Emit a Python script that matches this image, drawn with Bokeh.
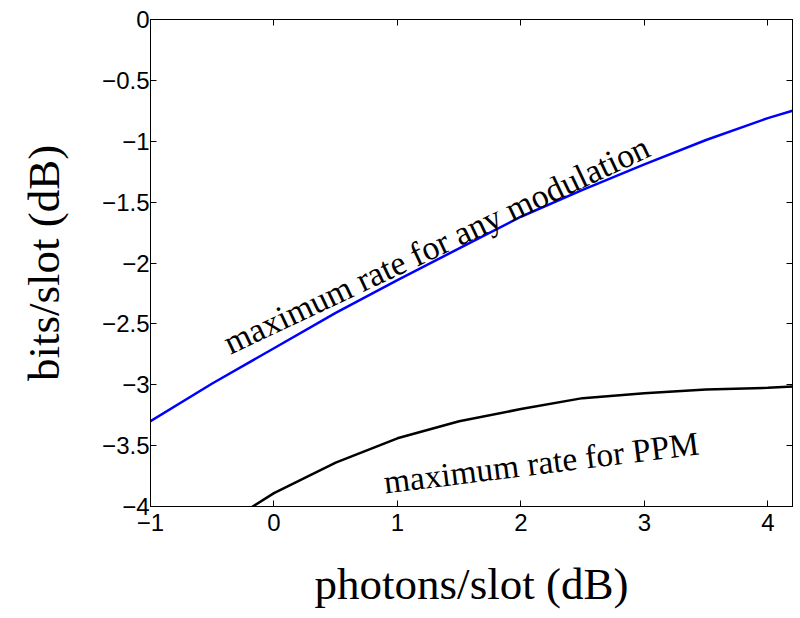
from bokeh.plotting import figure
from bokeh.models import Range1d, FixedTicker, LinearAxis, Label
from bokeh.embed import file_html
from bokeh.resources import INLINE

# ---- data ----
x_any = [-1.0, -0.5, 0.0, 0.5, 1.0, 1.5, 2.0, 2.5, 3.0, 3.5, 4.0, 4.2]
y_any = [-3.30, -2.99, -2.70, -2.41, -2.14, -1.88, -1.62, -1.40, -1.19, -0.99, -0.81, -0.75]

x_ppm = [-0.5, 0.0, 0.5, 1.0, 1.5, 2.0, 2.5, 3.0, 3.5, 4.0, 4.2]
y_ppm = [-4.21, -3.89, -3.64, -3.44, -3.30, -3.20, -3.11, -3.07, -3.04, -3.025, -3.015]

x_ticks = [-1, 0, 1, 2, 3, 4]
x_tick_labels = ["\u22121", "0", "1", "2", "3", "4"]
y_ticks = [0, -0.5, -1, -1.5, -2, -2.5, -3, -3.5, -4]
y_tick_labels = ["0", "\u22120.5", "\u22121", "\u22121.5", "\u22122", "\u22122.5", "\u22123", "\u22123.5", "\u22124"]

x_label = "photons/slot (dB)"
y_label = "bits/slot (dB)"
label_any = "maximum rate for any modulation"
label_ppm = "maximum rate for PPM"

p = figure(width=798, height=617,
           x_range=Range1d(-1, 4.2), y_range=Range1d(-4, 0),
           output_backend="svg", toolbar_location=None,
           min_border_left=150, min_border_right=6,
           min_border_top=19, min_border_bottom=111)
p.grid.visible = False
p.outline_line_color = "black"
p.outline_line_width = 1
p.background_fill_color = "white"
p.border_fill_color = "white"

def style_axis(ax):
    ax.axis_line_color = "black"
    ax.axis_line_width = 1
    ax.major_tick_in = 6
    ax.major_tick_out = 0
    ax.major_tick_line_color = "black"
    ax.minor_tick_line_color = None
    ax.major_label_text_font = "Liberation Sans"
    ax.major_label_text_font_size = "24px"
    ax.major_label_text_color = "black"
    ax.axis_label_text_font = "Liberation Serif"
    ax.axis_label_text_font_size = "45px"
    ax.axis_label_text_font_style = "normal"
    ax.axis_label_text_color = "black"

xa = p.xaxis[0]
style_axis(xa)
xa.ticker = FixedTicker(ticks=x_ticks)
xa.major_label_overrides = {t: l for t, l in zip(x_ticks, x_tick_labels)}
xa.major_label_standoff = 7
xa.axis_label = x_label
xa.axis_label_standoff = 25

ya = p.yaxis[0]
style_axis(ya)
ya.ticker = FixedTicker(ticks=y_ticks)
ya.major_label_overrides = {t: l for t, l in zip(y_ticks, y_tick_labels)}
ya.major_label_standoff = 1
ya.axis_label = y_label
ya.axis_label_standoff = 30

top = LinearAxis(ticker=FixedTicker(ticks=[], minor_ticks=x_ticks))
right = LinearAxis(ticker=FixedTicker(ticks=[], minor_ticks=y_ticks))
for ax in (top, right):
    ax.axis_line_color = "black"
    ax.major_tick_line_color = None
    ax.minor_tick_in = 6
    ax.minor_tick_out = 0
    ax.minor_tick_line_color = "black"
    ax.major_label_standoff = 0
    ax.major_label_text_font_size = "0px"
p.add_layout(top, "above")
p.add_layout(right, "right")

p.line(x_any, y_any, line_color="#0000ff", line_width=2.5)
p.line(x_ppm, y_ppm, line_color="black", line_width=2.5)

p.add_layout(Label(x=-0.3925, y=-2.669, text=label_any, angle=25.3, angle_units="deg",
                   text_font="Liberation Serif", text_font_size="34px",
                   text_align="left", text_baseline="alphabetic", text_color="black"))
p.add_layout(Label(x=0.890, y=-3.800, text=label_ppm, angle=7.1, angle_units="deg",
                   text_font="Liberation Serif", text_font_size="33.5px",
                   text_align="left", text_baseline="alphabetic", text_color="black"))

open("out.html", "w").write(file_html(p, INLINE))
